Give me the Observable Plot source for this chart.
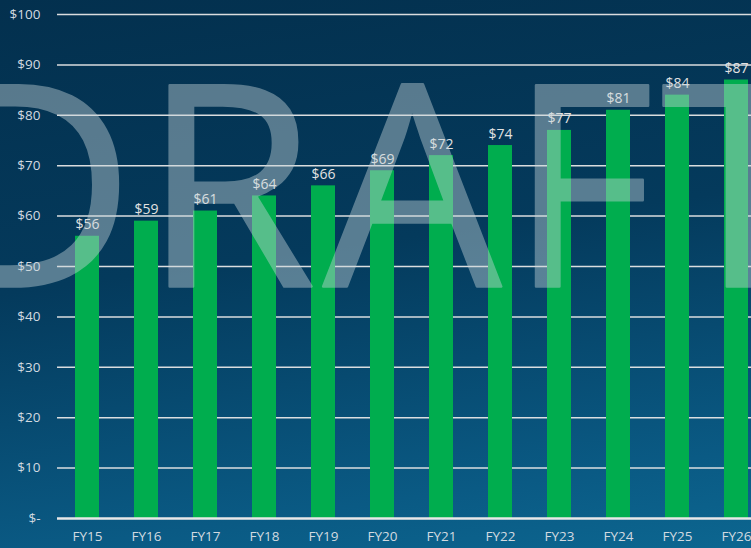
<!DOCTYPE html>
<html>
<head>
<meta charset="utf-8">
<script src="https://cdn.jsdelivr.net/npm/d3@7"></script>
<script src="https://cdn.jsdelivr.net/npm/@observablehq/plot@0.6"></script>
<style>
  html, body { margin: 0; padding: 0; overflow: hidden; width: 751px; height: 548px; }
  #chart svg { display: block; }
</style>
</head>
<body>
<div id="chart"></div>
<script>
const years = ["FY15","FY16","FY17","FY18","FY19","FY20","FY21","FY22","FY23","FY24","FY25","FY26"];
const values = [56, 59, 61, 64, 66, 69, 72, 74, 77, 81, 84, 87];
const yTicks = [0, 10, 20, 30, 40, 50, 60, 70, 80, 90, 100];
const watermark = "DRAFT";

const data = years.map((year, i) => ({year, value: values[i]}));
const fmt = d => d === 0 ? "$-" : "$" + d;

const chart = Plot.plot({
  width: 751,
  height: 548,
  marginLeft: 57,
  marginRight: -15,
  marginTop: 14,
  marginBottom: 30,
  style: {
    background: "linear-gradient(172deg, #03304e 0%, #043a5c 45%, #0a5a84 85%, #0c6690 100%)",
    fontFamily: "'Open Sans', sans-serif",
    fontSize: "13px",
    color: "#d2dae0"
  },
  x: {domain: years, paddingInner: 0.6, paddingOuter: 0.3, label: null},
  y: {domain: [0, 100], label: null},
  marks: [
    Plot.ruleY(yTicks.filter(d => d > 0), {stroke: "#e6e6e6", strokeWidth: 1.5, strokeOpacity: 0.95}),
    Plot.barY(data, {x: "year", y: "value", fill: "#00ad4e"}),
    Plot.ruleY([0], {stroke: "#e8e8e8", strokeWidth: 2.5}),
    Plot.axisY({ticks: yTicks, tickFormat: fmt, tickSize: 0, tickPadding: 17, fontSize: 13.5, fill: "#d2dae0", label: null}),
    Plot.axisX({tickSize: 0, tickPadding: 13, fontSize: 13.5, fill: "#d2dae0", label: null}),
    Plot.text(data, {x: "year", y: "value", text: d => fmt(d.value), lineAnchor: "bottom", dy: -7, fill: "#e2e2e2", fontSize: 14}),
    Plot.text([watermark], {
      frameAnchor: "top-left", text: d => d, textAnchor: "start", lineAnchor: "bottom",
      dx: -127, dy: 272, fontSize: 282, fontFamily: "'Open Sans', sans-serif",
      fill: "rgb(200,214,218)", stroke: "rgb(200,214,218)", strokeWidth: 2.5, opacity: 0.43
    })
  ]
});
d3.select(chart).selectAll("text").filter(function() { return this.textContent === watermark; })
  .attr("letter-spacing", 7);
document.getElementById("chart").appendChild(chart);
</script>
</body>
</html>
